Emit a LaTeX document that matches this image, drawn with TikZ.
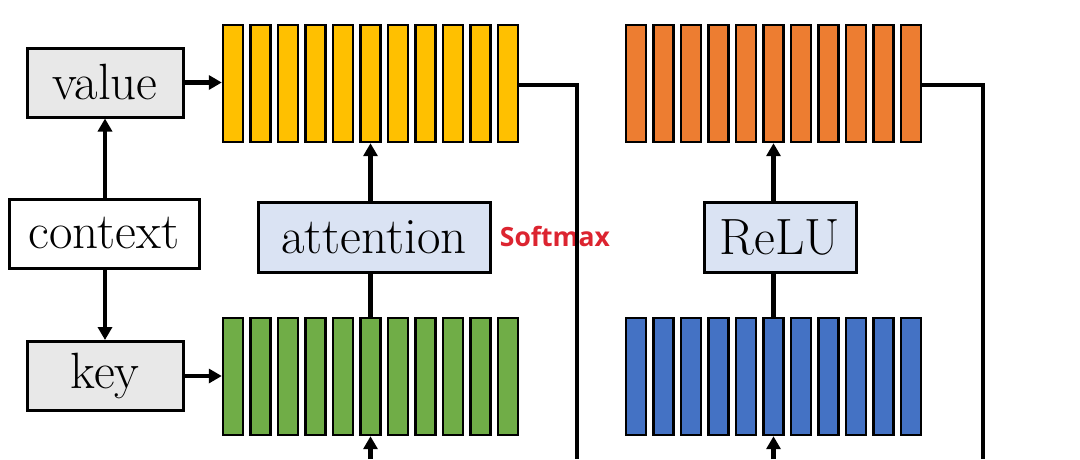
\documentclass[tikz,border=0pt]{standalone}
\usepackage{fontspec}
\usepackage{tikz}
\usetikzlibrary{arrows.meta,positioning}

\newfontfamily\softfont{Open Sans}

\definecolor{barYellow}{HTML}{FFC000}
\definecolor{barGreen}{HTML}{70AD47}
\definecolor{barOrange}{HTML}{ED7D31}
\definecolor{barBlue}{HTML}{4472C4}
\definecolor{boxGray}{HTML}{E8E8E8}
\definecolor{boxBlue}{HTML}{DAE3F3}
\definecolor{softRed}{HTML}{DC2430}

\tikzset{
  box/.style={draw, line width=3pt, inner sep=0pt, minimum height=69pt,
    font=\fontsize{51}{55}\selectfont},
  bar/.style={draw, line width=2.4pt, inner sep=0pt, minimum width=20pt,
    minimum height=117pt},
  conn/.style={line width=4.2pt},
  arr/.style={conn, -{Triangle[length=13pt,width=14pt]}}
}

\begin{document}
\begin{tikzpicture}[x=1pt,y=-1pt]
  \useasboundingbox (0,0) rectangle (1080,459);

  % The input boxes
  \node[box, fill=boxGray, minimum width=156pt] (value) at (105,82.5) {value};
  \node[box, fill=white, minimum width=190pt] (context) at (104,233.5) {context};
  \node[box, fill=boxGray, minimum width=156pt] (key) at (105,376) {key};

  % The four rows of bars
  \foreach \i in {0,...,10} {
    \node[bar, fill=barYellow] (vb\i) at (233+27.5*\i,83.5) {};
    \node[bar, fill=barGreen] (kb\i) at (233+27.5*\i,376.5) {};
    \node[bar, fill=barOrange] (ob\i) at (636+27.5*\i,83.5) {};
    \node[bar, fill=barBlue] (hb\i) at (636+27.5*\i,376.5) {};
  }

  % The activation boxes
  \node[box, fill=boxBlue, minimum width=232pt, minimum height=70pt] (attention) at (374,237) {attention};
  \node[box, fill=boxBlue, minimum width=152pt, minimum height=70pt] (relu) at (780,237) {ReLU};
  \node[text=softRed, font=\softfont\bfseries\fontsize{26.5}{30}\selectfont] (softmax) at (555,236) {Softmax};

  % Connectors on the left
  \draw[arr] (context.north -| value) -- (value.south);
  \draw[arr] (context.south -| key) -- (key.north);
  \draw[arr] (value.east) -- (value.east -| vb0.west);
  \draw[arr] (key.east) -- (key.east -| kb0.west);

  % Through the activations
  \draw[conn] (kb5.north) -- (kb5.north |- attention.south);
  \draw[arr] (attention.north -| vb5) -- (vb5.south);
  \draw[conn] (hb5.north) -- (hb5.north |- relu.south);
  \draw[arr] (relu.north -| ob5) -- (ob5.south);

  % Inputs from below
  \coordinate (kin) at (kb5 |- 0,459);
  \coordinate (hin) at (hb5 |- 0,459);
  \draw[arr] (kin) -- (kb5.south);
  \draw[arr] (hin) -- (hb5.south);

  % Outputs on the right
  \coordinate (vturn) at (577,85);
  \coordinate (vout) at (577,459);
  \coordinate (oturn) at (983,85);
  \coordinate (oout) at (983,459);
  \draw[conn] (vb10.east |- vturn) -- (vturn) -- (vout);
  \draw[conn] (ob10.east |- oturn) -- (oturn) -- (oout);

\end{tikzpicture}
\end{document}
